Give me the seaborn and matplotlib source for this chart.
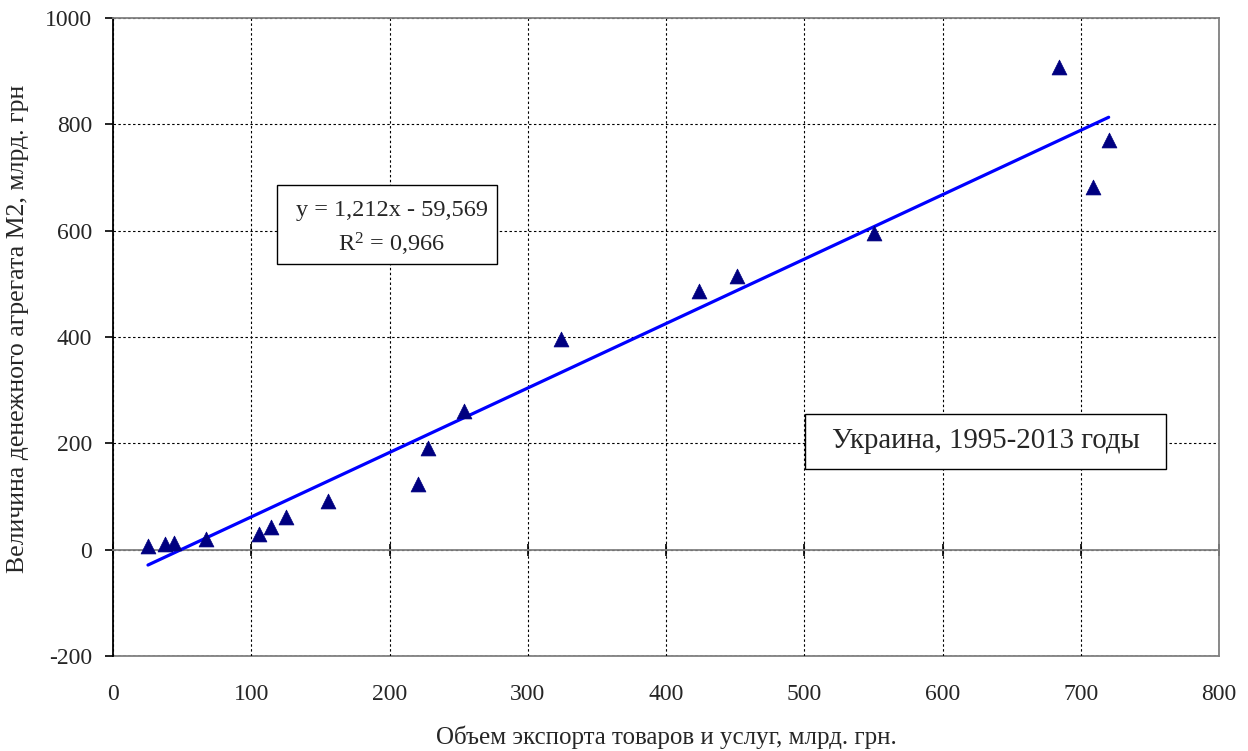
import numpy as np
import pandas as pd
import matplotlib
matplotlib.use("Agg")
import matplotlib.pyplot as plt
from matplotlib.patches import Rectangle
import seaborn as sns

# ---- data ----
export_vals = [25.3, 37.8, 43.9, 67.3, 105.4, 114.1, 124.9, 155.3, 220.4, 228.1,
               253.9, 324.0, 423.9, 451.4, 550.5, 684.0, 708.9, 720.2]
m2_vals = [7, 10, 13, 20, 30, 43, 62, 92, 124, 192,
           260, 397, 487, 515, 596, 907, 683, 771]
trend_slope = 1.212
trend_intercept = -59.569
equation_text = "y = 1,212x - 59,569\nR$^2$ = 0,966"
caption_text = "Украина, 1995-2013 годы"
x_label = "Объем экспорта товаров и услуг, млрд. грн."
y_label = "Величина денежного агрегата М2, млрд. грн"
x_ticks = [0, 100, 200, 300, 400, 500, 600, 700, 800]
y_ticks = [-200, 0, 200, 400, 600, 800, 1000]

sns.set_theme(style="white")
plt.rcParams["font.family"] = ["Liberation Serif", "DejaVu Serif"]
plt.rcParams["mathtext.fontset"] = "custom"
plt.rcParams["mathtext.rm"] = "Liberation Serif"
plt.rcParams["mathtext.it"] = "Liberation Serif"
plt.rcParams["mathtext.default"] = "regular"
plt.rcParams["axes.unicode_minus"] = False

fig = plt.figure(figsize=(12.48, 7.51), dpi=100)
ax = fig.add_axes([113 / 1248, 1 - 656 / 751, 1106 / 1248, 638 / 751])

df = pd.DataFrame({"x": export_vals, "y": m2_vals})
xl = np.array([min(export_vals), max(export_vals)])
trend = pd.DataFrame({"x": xl, "y": trend_slope * xl + trend_intercept})

grid_kw = dict(color="black", linestyle=(0, (2.2, 2.2)), linewidth=0.8)
ax.set_xlim(0, 800)
ax.set_ylim(-200, 1000)
ax.set_xticks(x_ticks)
ax.set_yticks(y_ticks)
ax.grid(True, **grid_kw)
ax.set_axisbelow(True)

sns.lineplot(data=trend, x="x", y="y", ax=ax, color="#0000FF", linewidth=2.3, zorder=3)
sns.scatterplot(data=df, x="x", y="y", ax=ax, marker="^", s=115, color="#000080",
                edgecolor="#000080", linewidth=0.5, zorder=4)

# spines
ax.spines["left"].set_color("black")
ax.spines["left"].set_linewidth(1.3)
for s in ("top", "right"):
    ax.spines[s].set_color("#808080")
    ax.spines[s].set_linewidth(1.3)
ax.spines["bottom"].set_position(("data", 0))
ax.spines["bottom"].set_color("#808080")
ax.spines["bottom"].set_linewidth(1.3)

ax.tick_params(axis="y", direction="out", length=6, width=1.2, color="black",
               labelsize=17, pad=9, left=True)
ax.tick_params(axis="x", direction="inout", length=8, width=1.2, color="black",
               labelbottom=False, bottom=True)

sec = ax.secondary_xaxis("bottom")
sec.set_xticks(x_ticks)
sec.tick_params(length=0, labelsize=17, pad=20)
sec.spines["bottom"].set_color("#808080")
sec.spines["bottom"].set_linewidth(1.3)

ax.set_xlabel("")
ax.set_ylabel("")
fig.text(18 / 1248, 1 - 329 / 751, y_label, fontsize=18.5, rotation=90,
         ha="center", va="center")
fig.text(666 / 1248, 1 - 737 / 751, x_label, fontsize=18,
         ha="center", va="center")

# equation box
ax.add_patch(Rectangle((0.1483, 0.6144), 0.3472 - 0.1483, 0.7382 - 0.6144,
                       transform=ax.transAxes, facecolor="white", edgecolor="black",
                       linewidth=1.0, zorder=5))
ax.text(0.2522, 0.669, equation_text, transform=ax.transAxes, fontsize=17.5,
        ha="center", va="center", multialignment="center", linespacing=1.5,
        zorder=6)

# caption box
ax.add_patch(Rectangle((0.6257, 0.2931), 0.9521 - 0.6257, 0.3793 - 0.2931,
                       transform=ax.transAxes, facecolor="white", edgecolor="black",
                       linewidth=1.0, zorder=5))
ax.text(0.789, 0.337, caption_text, transform=ax.transAxes, fontsize=20.8,
        ha="center", va="center", zorder=6)

fig.savefig("out.png", dpi=100)
